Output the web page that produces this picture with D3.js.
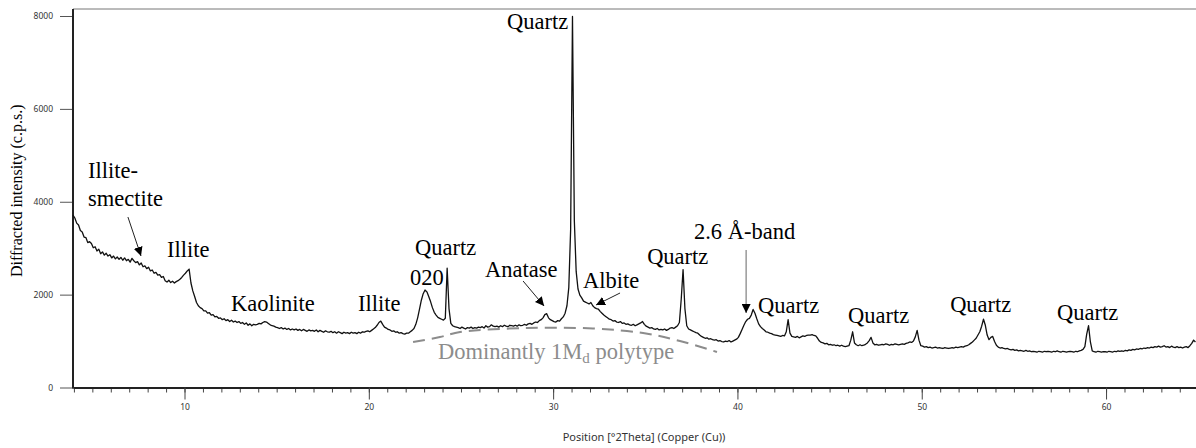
<!DOCTYPE html>
<meta charset="utf-8">
<title>XRD pattern</title>
<head>
  <script src="https://d3js.org/d3.v7.min.js"></script>
  <style>
    body { margin: 0; background: #fff; }
    .tick text { font-family: "Noto Sans", "Open Sans", sans-serif; font-size: 8.5px; fill: #333; }
    .peak-label { font-family: "Liberation Serif", "DejaVu Serif", serif; font-size: 22.5px; fill: #000; }
  </style>
</head>
<body>
  <div id="viz"></div>
  <script>
    // scan: start angle + step, one intensity per step (c.p.s.)
    var startAngle = 3.95
    var stepAngle = 0.1
    var intensity = [
      3710, 3650, 3540, 3500, 3380, 3350, 3240, 3230, 3120, 3140,
      3100, 3010, 3030, 2940, 2980, 2880, 2920, 2850, 2890, 2830,
      2860, 2790, 2830, 2770, 2810, 2760, 2800, 2740, 2790, 2730,
      2760, 2700, 2780, 2730, 2690, 2710, 2640, 2680, 2600, 2620,
      2560, 2590, 2510, 2530, 2460, 2480, 2420, 2430, 2370, 2390,
      2300, 2270, 2310, 2260, 2290, 2250, 2280, 2300, 2330, 2370,
      2420, 2460, 2510, 2550, 2250, 2080, 1960, 1830, 1760, 1720,
      1700, 1650, 1650, 1600, 1610, 1560, 1570, 1520, 1530, 1490,
      1500, 1460, 1480, 1440, 1460, 1420, 1450, 1410, 1430, 1400,
      1420, 1380, 1400, 1360, 1390, 1340, 1370, 1330, 1360, 1350,
      1360, 1380, 1370, 1400, 1420, 1410, 1380, 1350, 1330, 1320,
      1300, 1290, 1270, 1290, 1260, 1280, 1250, 1270, 1240, 1260,
      1240, 1260, 1230, 1250, 1220, 1250, 1230, 1210, 1240, 1220,
      1230, 1210, 1240, 1200, 1230, 1210, 1190, 1220, 1200, 1190,
      1210, 1180, 1200, 1170, 1200, 1180, 1160, 1190, 1170, 1180,
      1160, 1190, 1170, 1180, 1160, 1190, 1170, 1200, 1190, 1210,
      1220, 1200, 1230, 1260, 1290, 1340, 1400, 1430, 1360, 1300,
      1280, 1250, 1240, 1210, 1220, 1190, 1200, 1170, 1180, 1160,
      1150, 1170, 1170, 1200, 1230, 1270, 1360, 1500, 1690, 1880,
      2020, 2100, 2060, 1960, 1850, 1720, 1620, 1560, 1510, 1490,
      1470, 1450, 1490, 2570, 1700, 1380, 1330, 1310, 1300, 1290,
      1270, 1300, 1280, 1260, 1290, 1280, 1300, 1270, 1290, 1280,
      1300, 1290, 1310, 1280, 1330, 1300, 1310, 1350, 1320, 1310,
      1320, 1300, 1330, 1310, 1340, 1320, 1310, 1340, 1330, 1320,
      1340, 1320, 1350, 1330, 1340, 1360, 1340, 1370, 1380, 1360,
      1390, 1410, 1400, 1440, 1460, 1500, 1570, 1590, 1500, 1460,
      1440, 1420, 1410, 1440, 1430, 1480, 1520, 1600, 1760, 2150,
      3400, 7990, 3600, 2500, 2120, 1990, 1930, 1860, 1840, 1820,
      1800, 1830, 1760, 1720, 1700, 1690, 1640, 1600, 1560, 1530,
      1500, 1470, 1460, 1430, 1440, 1410, 1400, 1420, 1380, 1390,
      1360, 1370, 1350, 1340, 1360, 1330, 1350, 1370, 1390, 1420,
      1360, 1320, 1300, 1280, 1290, 1260, 1250, 1270, 1240, 1250,
      1240, 1260, 1230, 1250, 1280, 1290, 1270, 1300, 1330, 1400,
      1900, 2540, 1700, 1330, 1260, 1240, 1220, 1200, 1180, 1170,
      1130, 1100, 1080, 1060, 1070, 1040, 1050, 1030, 1020, 1030,
      1000, 1010, 990, 980, 1000, 990, 1010, 980, 1000, 1020,
      1040, 1080, 1160, 1250, 1340, 1420, 1470, 1490, 1560, 1680,
      1600, 1480, 1370, 1310, 1270, 1240, 1200, 1190, 1170, 1160,
      1140, 1130, 1120, 1110, 1100, 1120, 1110, 1200, 1460, 1170,
      1100, 1090, 1080, 1100, 1070, 1090, 1110, 1100, 1120, 1130,
      1130, 1140, 1120, 1110, 1060, 1000, 970, 960, 940, 950,
      920, 930, 910, 920, 900, 910, 890, 910, 890, 880,
      890, 900, 1020, 1200, 960, 920, 900, 920, 900, 910,
      930, 960, 1010, 1080, 960, 920, 930, 910, 920, 930,
      920, 940, 930, 910, 930, 920, 940, 930, 920, 930,
      940, 930, 950, 960, 980, 970, 1000, 1090, 1230, 1020,
      900, 890, 870, 880, 860, 870, 850, 860, 870, 850,
      860, 850, 840, 860, 850, 840, 850, 860, 850, 870,
      860, 870, 880, 870, 890, 900, 920, 950, 980, 1020,
      1060, 1130, 1200, 1320, 1470, 1340, 1130, 1030, 1080, 1100,
      990, 910, 870, 850, 860, 840, 830, 840, 820, 810,
      820, 800, 810, 790, 800, 790, 780, 800, 780, 790,
      770, 780, 770, 760, 780, 770, 760, 780, 770, 780,
      770, 760, 780, 770, 790, 770, 760, 780, 770, 760,
      770, 780, 770, 760, 780, 770, 790, 800, 820, 880,
      1150, 1330, 980, 790, 770, 760, 780, 770, 760, 770,
      770, 760, 780, 770, 760, 780, 770, 790, 780, 790,
      780, 800, 790, 810, 800, 820, 810, 830, 820, 840,
      830, 850, 840, 860, 850, 870, 860, 880, 870, 890,
      870, 880, 900, 870, 880, 860, 890, 870, 860, 880,
      860, 870, 850, 870, 880, 860, 900, 950, 1020, 980
    ]

    var xMajorTicks = [10, 20, 30, 40, 50, 60]
    var yTicks = [0, 2000, 4000, 6000, 8000]

    // phase labels, placed in data units (start of text, baseline)
    var labelText = ["Illite-", "smectite", "Illite", "Kaolinite", "Illite", "Quartz", "020", "Anatase",
      "Quartz", "Albite", "Quartz", "2.6 Å-band", "Quartz", "Quartz", "Quartz", "Quartz"]
    var labelAngle = [4.76, 4.76, 9.05, 12.52, 19.41, 22.51, 22.24, 26.3,
      27.5, 31.62, 35.1, 37.64, 41.12, 46.0, 51.54, 57.34]
    var labelCps = [4522, 3919, 2810, 1647, 1647, 2853, 2207, 2379,
      7720, 2153, 2649, 3198, 1604, 1389, 1626, 1453]

    // arrows: [angle, cps] start -> end
    var arrowFrom = [[6.93, 3671], [28.37, 2293], [33.63, 2035], [40.47, 2961]]
    var arrowTo = [[7.64, 2832], [29.51, 1755], [32.33, 1777], [40.47, 1604]]
    var arrowColor = ["#222", "#222", "#222", "#666"]

    // dashed hump of the 1Md polytype
    var humpAngle = [22.4, 23.86, 24.95, 28.58, 32.16, 34.88, 36.88, 38.89]
    var humpCps = [980, 1087, 1195, 1281, 1270, 1173, 1001, 764]
    var humpLabel = { angle: 23.75, cps: 614 }

    var width = 1196
    var height = 448
    var margin = { top: 16, right: 0, bottom: 60.5, left: 73 }

    var svg = d3.select("#viz").append("svg")
      .attr("width", width)
      .attr("height", height)

    var x = d3.scaleLinear()
      .domain([3.95, 64.88])
      .range([margin.left, width - margin.right])

    var y = d3.scaleLinear()
      .domain([0, 8000])
      .range([height - margin.bottom, margin.top])

    var scan = intensity.map(function(v, i) {
      return { angle: startAngle + i * stepAngle, cps: v }
    })

    // frame
    svg.append("line")
      .attr("x1", margin.left).attr("x2", width)
      .attr("y1", y(8000) - 7).attr("y2", y(8000) - 7)
      .attr("stroke", "#777").attr("stroke-width", 1)

    // minor x ticks every degree
    svg.append("g")
      .attr("transform", "translate(0," + y(0) + ")")
      .call(d3.axisBottom(x).tickValues(d3.range(4, 65)).tickSize(5).tickFormat(""))
      .call(function(g) { g.select(".domain").remove() })
      .selectAll("line").attr("stroke", "#444")

    var xAxis = svg.append("g")
      .attr("transform", "translate(0," + y(0) + ")")
      .call(d3.axisBottom(x).tickValues(xMajorTicks).tickSize(12).tickSizeOuter(0).tickPadding(4))
    xAxis.select(".domain").attr("stroke", "#222").attr("stroke-width", 2)
    xAxis.selectAll(".tick line").attr("stroke", "#444")

    var yAxis = svg.append("g")
      .attr("transform", "translate(" + margin.left + ",0)")
      .call(d3.axisLeft(y).tickValues(yTicks).tickFormat(d3.format("d"))
        .tickSize(13).tickSizeOuter(0).tickPadding(7))
    yAxis.select(".domain").remove()
    yAxis.selectAll(".tick line").attr("stroke", "#555")
    svg.append("line")
      .attr("x1", margin.left).attr("x2", margin.left)
      .attr("y1", y(8000) - 7).attr("y2", y(0) + 1)
      .attr("stroke", "#222").attr("stroke-width", 2)

    // axis titles
    svg.append("text")
      .attr("x", 644).attr("y", 441)
      .attr("text-anchor", "middle")
      .style("font-family", "'Noto Sans', 'Open Sans', sans-serif")
      .style("font-size", "11px")
      .style("fill", "#333")
      .text("Position [°2Theta] (Copper (Cu))")

    svg.append("text")
      .attr("transform", "translate(22," + (y(4000) - 11) + ") rotate(-90)")
      .attr("text-anchor", "middle")
      .style("font-family", "'Liberation Serif', serif")
      .style("font-size", "16px")
      .text("Diffracted intensity (c.p.s.)")

    // 1Md hump
    var hump = humpAngle.map(function(a, i) { return [a, humpCps[i]] })
    svg.append("path")
      .datum(hump)
      .attr("fill", "none")
      .attr("stroke", "#8c8c8c")
      .attr("stroke-width", 2)
      .attr("stroke-dasharray", "12,7")
      .attr("d", d3.line()
        .x(function(d) { return x(d[0]) })
        .y(function(d) { return y(d[1]) })
        .curve(d3.curveCatmullRom))

    var hl = svg.append("text")
      .attr("class", "peak-label")
      .attr("x", x(humpLabel.angle))
      .attr("y", y(humpLabel.cps))
      .style("fill", "#8c8c8c")
    hl.append("tspan").text("Dominantly 1M")
    hl.append("tspan").attr("dy", 4).style("font-size", "15px").text("d")
    hl.append("tspan").attr("dy", -4).text(" polytype")

    // pattern
    svg.append("path")
      .datum(scan)
      .attr("fill", "none")
      .attr("stroke", "#111")
      .attr("stroke-width", 1.3)
      .attr("stroke-linejoin", "round")
      .attr("d", d3.line()
        .x(function(d) { return x(d.angle) })
        .y(function(d) { return y(d.cps) }))

    // labels
    svg.selectAll(".peak-text")
      .data(labelText)
      .enter().append("text")
      .attr("class", "peak-label peak-text")
      .attr("x", function(d, i) { return x(labelAngle[i]) })
      .attr("y", function(d, i) { return y(labelCps[i]) })
      .text(function(d) { return d })

    // arrows
    svg.append("defs").selectAll("marker")
      .data(arrowColor)
      .enter().append("marker")
      .attr("id", function(d, i) { return "head" + i })
      .attr("viewBox", "0 0 10 10")
      .attr("refX", 10).attr("refY", 5)
      .attr("markerWidth", 9).attr("markerHeight", 9)
      .attr("markerUnits", "userSpaceOnUse")
      .attr("orient", "auto")
      .append("path")
      .attr("d", "M0,0 L10,5 L0,10 z")
      .attr("fill", "#000")

    svg.selectAll(".arrow")
      .data(arrowFrom)
      .enter().append("line")
      .attr("class", "arrow")
      .attr("x1", function(d) { return x(d[0]) })
      .attr("y1", function(d) { return y(d[1]) })
      .attr("x2", function(d, i) { return x(arrowTo[i][0]) })
      .attr("y2", function(d, i) { return y(arrowTo[i][1]) })
      .attr("stroke", function(d, i) { return arrowColor[i] })
      .attr("stroke-width", 1)
      .attr("marker-end", function(d, i) { return "url(#head" + i + ")" })
  </script>
</body>
